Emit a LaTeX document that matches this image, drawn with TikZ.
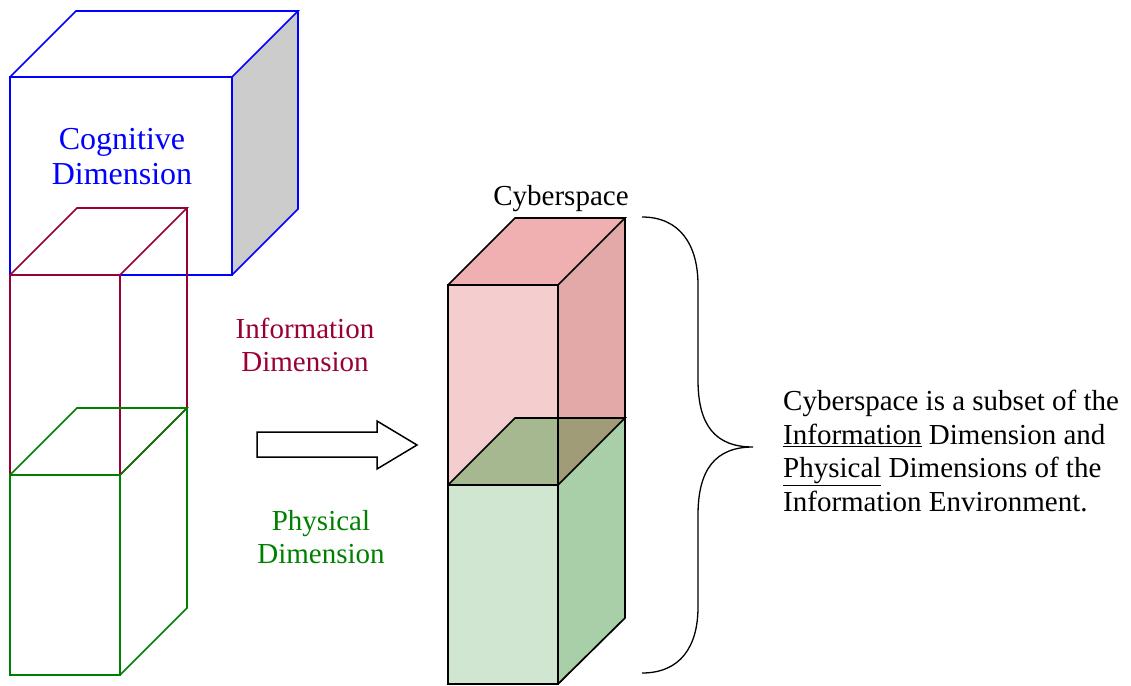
\documentclass[tikz,border=0pt]{standalone}
\usepackage{fontspec}
\setmainfont{Liberation Serif}
\begin{document}
\begin{tikzpicture}[x=1pt,y=-1pt,line join=miter,
  edge/.style={line width=1.7pt},
  lbl/.style={align=center,inner sep=0pt,font=\fontsize{29}{33.5}\selectfont}]
\definecolor{cogblue}{RGB}{0,0,255}
\definecolor{infored}{RGB}{153,0,51}
\definecolor{physgreen}{RGB}{0,128,0}
\definecolor{pinkfront}{RGB}{244,206,207}
\definecolor{pinktop}{RGB}{240,176,177}
\definecolor{pinkside}{RGB}{227,168,168}
\definecolor{greenfront}{RGB}{208,230,208}
\definecolor{greenside}{RGB}{168,207,168}
\definecolor{olivea}{RGB}{166,184,144}
\definecolor{oliveb}{RGB}{160,156,120}
\useasboundingbox (0,0) rectangle (1131,685);

% Cognitive cube
\fill[black!20] (232,77) -- (298,11) -- (298,209) -- (232,275) -- cycle;
\draw[edge,cogblue] (10,77) rectangle (232,275);
\draw[edge,cogblue] (10,77) -- (76,11) -- (298,11) -- (232,77);
\draw[edge,cogblue] (298,11) -- (298,209) -- (232,275);

% Information box
\draw[edge,infored] (10,275) rectangle (120,475);
\draw[edge,infored] (10,275) -- (77,208) -- (187,208) -- (120,275);
\draw[edge,infored] (187,208) -- (187,408) -- (120,475);

% Physical box
\draw[edge,physgreen] (10,475) rectangle (120,675);
\draw[edge,physgreen] (10,475) -- (77,408) -- (187,408) -- (120,475);
\draw[edge,physgreen] (187,408) -- (187,608) -- (120,675);

% labels
\node[lbl,font=\fontsize{32}{35}\selectfont,text=cogblue] (cog) at (122,157) {Cognitive\\Dimension};
\node[lbl,text=infored] (info) at (305,345) {Information\\Dimension};
\node[lbl,text=physgreen] (phys) at (321,537) {Physical\\Dimension};

% block arrow
\draw[line width=1.5pt] (257,432) -- (377,432) -- (377,421) -- (417,445) -- (377,469) -- (377,457) -- (257,457) -- cycle;

% Cyberspace: red box
\fill[pinkfront] (448,285) rectangle (558,485);
\fill[pinkside] (558,285) -- (625,218) -- (625,418) -- (558,485) -- cycle;
\fill[pinktop] (448,285) -- (515,218) -- (625,218) -- (558,285) -- cycle;
% green box
\fill[greenfront] (448,485) rectangle (558,685);
\fill[greenside] (558,485) -- (625,418) -- (625,618) -- (558,685) -- cycle;
\fill[olivea] (448,485) -- (515,418) -- (558,418) -- (558,485) -- cycle;
\fill[oliveb] (558,418) -- (625,418) -- (558,485) -- cycle;
% edges
\draw[edge] (448,285) rectangle (558,485);
\draw[edge] (448,285) -- (515,218) -- (625,218) -- (558,285);
\draw[edge] (625,218) -- (625,418);
\draw[edge] (448,485) rectangle (558,684);
\draw[edge] (448,485) -- (515,418) -- (625,418) -- (558,485);
\draw[edge] (625,418) -- (625,618) -- (558,684);

\node[lbl] (cyber) at (561,199) {Cyberspace};

% brace
\draw[line width=1.3pt] (642,217) .. controls (680,217) and (698,245) .. (698,285)
  -- (698,380) .. controls (698,425) and (715,447) .. (753,447)
  .. controls (715,447) and (698,470) .. (698,515)
  -- (698,607) .. controls (698,647) and (680,673) .. (642,673);

\node[lbl,align=left,anchor=west] (desc) at (783,451)
  {Cyberspace is a subset of the\\
   \underline{Information} Dimension and\\
   \underline{Physical} Dimensions of the\\
   Information Environment.};
\end{tikzpicture}
\end{document}
